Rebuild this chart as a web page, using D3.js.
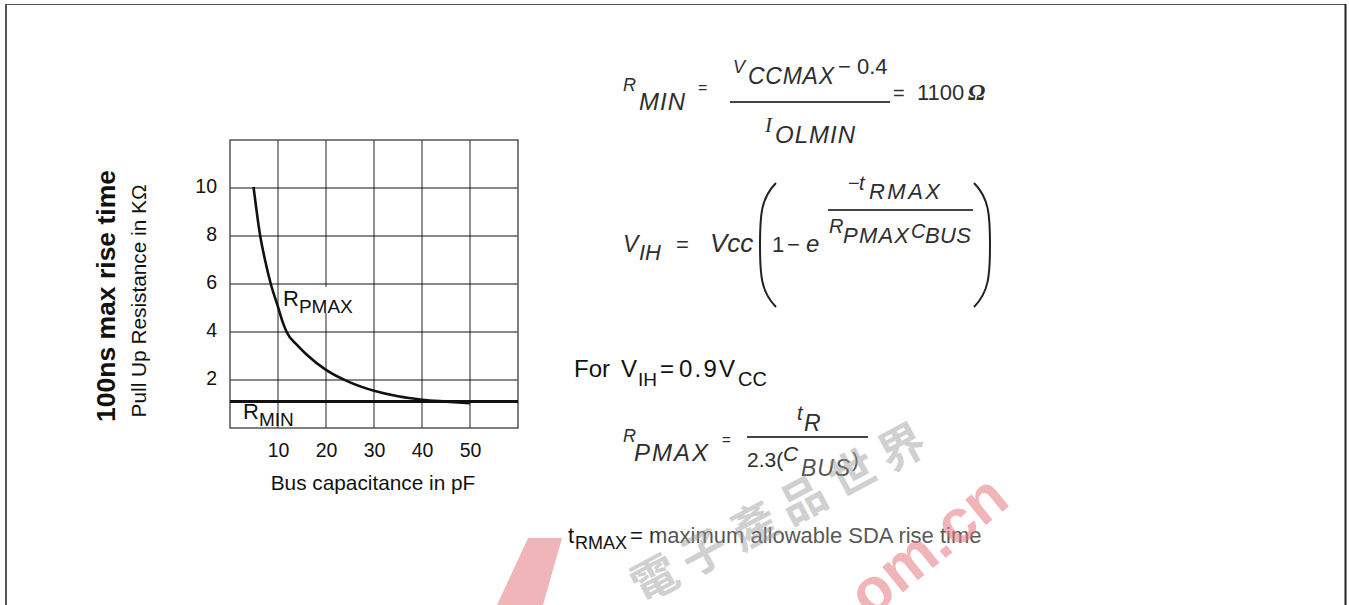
<!DOCTYPE html>
<html>
<head>
<meta charset="utf-8">
<script src="https://cdn.jsdelivr.net/npm/d3@7"></script>
<style>
  body { margin: 0; background: #fff; }
  svg { display: block; font-family: "Liberation Sans", Arial, sans-serif; }
</style>
</head>
<body>
<div id="chart"></div>
<script>
// bus capacitance (pF) vs max pull-up resistance (kOhm)
const capacitance = [4.9, 6.3, 7.3, 8.5, 10, 11, 11.8, 14, 16, 20, 25, 30, 35, 40, 45, 50];
const rPmax = [10.05, 8, 7, 6, 5.05, 4.4, 4.0, 3.45, 3.05, 2.42, 1.9, 1.55, 1.32, 1.18, 1.1, 1.03];
const rMin = 1.1;
const xTicks = [10, 20, 30, 40, 50];
const yTicks = [2, 4, 6, 8, 10];
const watermarkChars = ["電", "子", "產", "品", "世", "界"];

const width = 1349, height = 605;
const plot = {left: 230, right: 518, top: 140, bottom: 428};

const svg = d3.select("#chart")
  .append("svg")
  .attr("width", width)
  .attr("height", height);

// page frame (left, top, right edges only)
svg.append("line").attr("x1", 6).attr("x2", 6).attr("y1", 4).attr("y2", height)
  .attr("stroke", "#555").attr("stroke-width", 2);
svg.append("line").attr("x1", 5).attr("x2", 1346).attr("y1", 4.5).attr("y2", 4.5)
  .attr("stroke", "#555").attr("stroke-width", 1.2);
svg.append("line").attr("x1", 1345.5).attr("x2", 1345.5).attr("y1", 4).attr("y2", height)
  .attr("stroke", "#222").attr("stroke-width", 2);

const x = d3.scaleLinear().domain([0, 60]).range([plot.left, plot.right]);
const y = d3.scaleLinear().domain([0, 12]).range([plot.bottom, plot.top]);

// grid
svg.append("g")
  .selectAll("line")
  .data(xTicks)
  .join("line")
  .attr("x1", d => x(d)).attr("x2", d => x(d))
  .attr("y1", plot.top).attr("y2", plot.bottom)
  .attr("stroke", "#6e6e6e").attr("stroke-width", 1.5);

svg.append("g")
  .selectAll("line")
  .data(yTicks)
  .join("line")
  .attr("x1", plot.left).attr("x2", plot.right)
  .attr("y1", d => y(d)).attr("y2", d => y(d))
  .attr("stroke", "#111").attr("stroke-width", 1);

svg.append("rect")
  .attr("x", plot.left).attr("y", plot.top)
  .attr("width", plot.right - plot.left).attr("height", plot.bottom - plot.top)
  .attr("fill", "none").attr("stroke", "#555").attr("stroke-width", 1.5);

// white patch behind the R_PMAX label (under the curve)
svg.append("rect")
  .attr("x", 279).attr("y", 287).attr("width", 94).attr("height", 26)
  .attr("fill", "#fff");

// axes: labels only
const yAxis = svg.append("g")
  .attr("transform", `translate(${plot.left},0)`)
  .call(d3.axisLeft(y).tickValues(yTicks).tickSize(0).tickPadding(13));
const xAxis = svg.append("g")
  .attr("transform", `translate(0,${plot.bottom})`)
  .call(d3.axisBottom(x).tickValues(xTicks).tickSize(0).tickPadding(15));
[yAxis, xAxis].forEach(a => {
  a.select(".domain").remove();
  a.selectAll("text")
    .attr("font-family", "'Liberation Sans', Arial, sans-serif")
    .style("font-size", "19.5px")
    .attr("fill", "#111");
});
yAxis.selectAll("text").attr("dy", "0.25em");

svg.append("text")
  .attr("x", 373)
  .attr("y", 490)
  .attr("text-anchor", "middle")
  .style("font-size", "20.8px")
  .attr("fill", "#111")
  .text("Bus capacitance in pF");

svg.append("text")
  .attr("transform", "translate(115,296) rotate(-90)")
  .attr("text-anchor", "middle")
  .style("font-size", "26.5px")
  .style("font-weight", "bold")
  .attr("fill", "#111")
  .text("100ns max rise time");

svg.append("text")
  .attr("transform", "translate(146,301) rotate(-90)")
  .attr("text-anchor", "middle")
  .style("font-size", "20.8px")
  .attr("fill", "#111")
  .text("Pull Up Resistance in KΩ");

// R_MIN level
svg.append("line")
  .attr("x1", x(0)).attr("x2", x(60))
  .attr("y1", y(rMin)).attr("y2", y(rMin))
  .attr("stroke", "#111").attr("stroke-width", 3);

// R_PMAX curve
const curve = d3.line()
  .x(d => x(d[0]))
  .y(d => y(d[1]))
  .curve(d3.curveMonotoneX);

svg.append("path")
  .datum(capacitance.map((c, i) => [c, rPmax[i]]))
  .attr("d", curve)
  .attr("fill", "none")
  .attr("stroke", "#111")
  .attr("stroke-width", 2.6);

function label(main, sub, px, py) {
  const t = svg.append("text").attr("x", px).attr("y", py).attr("fill", "#111");
  t.append("tspan").style("font-size", "22px").text(main);
  t.append("tspan").attr("dy", 7).style("font-size", "19px").text(sub);
}
label("R", "PMAX", 283, 306);
label("R", "MIN", 243, 419);

// ---- formulas ----
const eqColor = "#2e2e2e";
function put(txt, px, py, size, opt = {}) {
  const t = svg.append("text")
    .attr("x", px).attr("y", py)
    .style("font-size", size + "px")
    .attr("fill", opt.fill || eqColor)
    .text(txt);
  if (opt.italic) t.style("font-style", "italic");
  if (opt.bold) t.style("font-weight", "bold");
  if (opt.serif) t.style("font-family", "'Liberation Serif', 'Times New Roman', serif");
  if (opt.len) t.attr("textLength", opt.len).attr("lengthAdjust", "spacing");
  return t;
}
function bar(x1, x2, yy) {
  svg.append("line").attr("x1", x1).attr("x2", x2).attr("y1", yy).attr("y2", yy)
    .attr("stroke", "#444").attr("stroke-width", 2.2);
}

// R_MIN = (V_CCMAX - 0.4) / I_OLMIN = 1100 Ohm
put("R", 623, 91, 18, {italic: true});
put("MIN", 639, 110, 24, {italic: true, len: 46});
put("=", 698, 93, 16);
put("V", 733, 73, 18, {italic: true});
put("CCMAX", 748, 84, 23, {italic: true, len: 86});
put("− 0.4", 838, 74, 22);
bar(730, 890, 102);
put("I", 765, 132, 21, {italic: true, serif: true});
put("OLMIN", 775, 143, 24, {italic: true, len: 80});
put("=", 893, 100, 20);
put("1100", 917, 100, 22);
put("Ω", 968, 100, 23, {italic: true, bold: true, serif: true});

// V_IH = Vcc (1 - e^(-t_RMAX / R_PMAX C_BUS))
put("V", 623, 252, 23, {italic: true});
put("IH", 639, 260, 22, {italic: true});
put("=", 676, 252, 22);
put("Vcc", 710, 252, 26, {italic: true});
put("1", 772, 252, 22);
put("−", 787, 252, 22);
put("e", 806, 252, 24, {italic: true});
put("−", 848, 190, 20);
put("t", 859, 190, 20, {italic: true});
put("RMAX", 869, 199, 22, {italic: true, len: 71});
bar(828, 973, 210);
put("R", 829, 233, 20, {italic: true});
put("PMAX", 843, 243, 22, {italic: true, len: 66});
put("C", 911, 238, 20, {italic: true});
put("BUS", 925, 243, 22, {italic: true, len: 46});
svg.append("path")
  .attr("d", "M776,183 C761,198 760,215 760,245 C760,275 761,292 776,307")
  .attr("fill", "none").attr("stroke", "#222").attr("stroke-width", 2);
svg.append("path")
  .attr("d", "M974,183 C989,198 990,215 990,245 C990,275 989,292 974,307")
  .attr("fill", "none").attr("stroke", "#222").attr("stroke-width", 2);

// For V_IH = 0.9 V_CC
put("For", 574, 377, 24, {fill: "#111"});
put("V", 621, 377, 24, {fill: "#111"});
put("IH", 638, 386, 19, {fill: "#111"});
put("=", 660, 377, 24, {fill: "#111"});
put("0.9V", 679, 377, 24, {fill: "#111", len: 56});
put("CC", 738, 386, 20, {fill: "#111"});

// R_PMAX = t_R / 2.3(C_BUS)
put("R", 623, 442, 18, {italic: true});
put("PMAX", 634, 461, 24, {italic: true, len: 74});
put("=", 722, 445, 15);
put("t", 797, 420, 20, {italic: true});
put("R", 804, 431, 23, {italic: true});
bar(747, 868, 437);
put("2.3(", 747, 467, 21);
put("C", 783, 461, 21, {italic: true});
put("BUS", 801, 476, 23, {italic: true, len: 49, fill: "#555"});
put(")", 852, 467, 20, {fill: "#555"});

// t_RMAX definition, fading from black to grey
const grad = svg.append("defs").append("linearGradient")
  .attr("id", "fade").attr("gradientUnits", "userSpaceOnUse")
  .attr("x1", 568).attr("x2", 985).attr("y1", 0).attr("y2", 0);
grad.append("stop").attr("offset", "0%").attr("stop-color", "#111");
grad.append("stop").attr("offset", "18%").attr("stop-color", "#151515");
grad.append("stop").attr("offset", "24%").attr("stop-color", "#555");
grad.append("stop").attr("offset", "100%").attr("stop-color", "#5a5a5a");
put("t", 568, 543, 22, {fill: "url(#fade)"});
put("RMAX", 575, 549, 18, {fill: "url(#fade)"});
put("= maximum allowable SDA rise time", 630, 543, 22, {fill: "url(#fade)"});

// watermark
svg.append("path")
  .attr("d", "M497,605 L528,538 L562,538 L543,605 Z")
  .attr("fill", "#e47880").attr("opacity", 0.55);
const wm = svg.append("g")
  .attr("transform", "translate(642,604) rotate(-28)")
  .attr("opacity", 0.45);
wm.selectAll("text")
  .data(watermarkChars)
  .join("text")
  .attr("x", (d, i) => i * 56)
  .style("font-family", "'Noto Sans CJK TC', sans-serif")
  .style("font-size", "46px")
  .style("font-weight", "bold")
  .attr("fill", "#999")
  .text(d => d);
svg.append("text")
  .attr("transform", "translate(1012,504) rotate(-39)")
  .attr("text-anchor", "end")
  .style("font-size", "62px")
  .style("font-weight", "bold")
  .attr("fill", "#e47880")
  .attr("opacity", 0.55)
  .text("om.cn");
</script>
</body>
</html>
